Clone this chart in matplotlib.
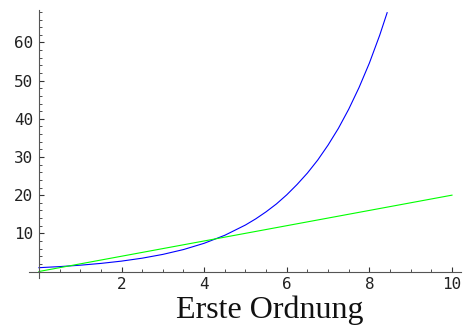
import matplotlib
matplotlib.use("Agg")
import matplotlib.pyplot as plt
from matplotlib.ticker import MultipleLocator, FixedLocator

# data
blue_x = [0, 0.5, 1, 1.5, 2, 2.5, 3, 3.5, 4, 4.5, 5, 5.25, 5.5, 5.75, 6, 6.25, 6.5,
          6.75, 7, 7.25, 7.5, 7.75, 8, 8.25, 8.43]
blue_y = [1.0, 1.28, 1.65, 2.12, 2.72, 3.49, 4.48, 5.75, 7.39, 9.49, 12.18, 13.8, 15.64,
          17.7, 20.09, 22.8, 25.79, 29.2, 33.12, 37.5, 42.52, 48.2, 54.6, 61.9, 67.8]
green_x = [0, 10]
green_y = [0, 20]
xticks = [2, 4, 6, 8, 10]
yticks = [10, 20, 30, 40, 50, 60]
xlabel = "Erste Ordnung"

fig = plt.figure(figsize=(4.64, 3.27), dpi=100)
ax = fig.add_axes([29.0/464, 55.5/327 - 6.3/327, 432.5/464, (261.5 + 6.3)/327])
ax.plot(blue_x, blue_y, color="#0000ff", lw=0.8)
ax.plot(green_x, green_y, color="#00ff00", lw=0.8)
ax.set_xlim(-0.24, 10.23)
ax.set_ylim(-1.65, 68.5)

for s in ("top", "right"):
    ax.spines[s].set_visible(False)
ax.spines["left"].set_position(("data", 0))
ax.spines["bottom"].set_position(("data", 0))
for s in ("left", "bottom"):
    ax.spines[s].set_color("#555555")
    ax.spines[s].set_linewidth(0.8)

ax.xaxis.set_major_locator(FixedLocator(xticks))
ax.yaxis.set_major_locator(FixedLocator(yticks))
ax.xaxis.set_minor_locator(MultipleLocator(0.5))
ax.yaxis.set_minor_locator(MultipleLocator(2))
ax.set_xticklabels([str(t) for t in xticks])
ax.set_yticklabels([str(t) for t in yticks])
ax.tick_params(which="major", direction="in", length=3.5, width=0.8, color="#333333",
               labelsize=11.5, pad=4, labelcolor="#222222")
ax.tick_params(which="minor", direction="in", length=2, width=0.6, color="#333333")
for lab in ax.get_xticklabels() + ax.get_yticklabels():
    lab.set_family("DejaVu Sans Mono")

fig.text(269.5/464, 9/327, xlabel, family="Liberation Serif", fontsize=23,
         ha="center", va="baseline", color="#111111")

fig.savefig("out.png", dpi=100)
